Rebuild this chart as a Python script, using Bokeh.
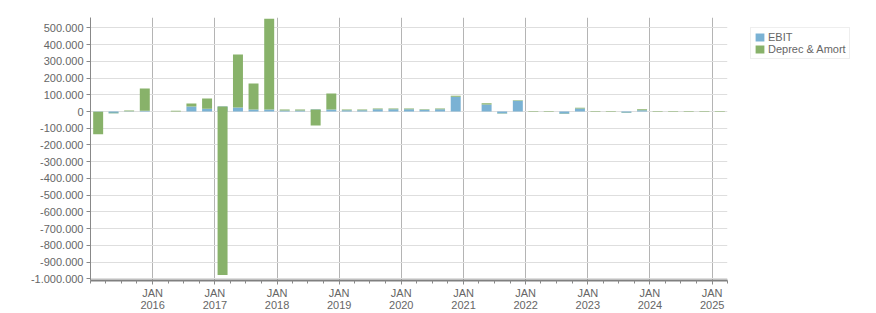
import datetime as dt
from bokeh.plotting import figure
from bokeh.models import FixedTicker, ColumnDataSource, Legend, LegendItem, Range1d
from bokeh.embed import file_html
from bokeh.resources import INLINE

# ---- data ----
quarters = [
    "2015-Q1", "2015-Q2", "2015-Q3", "2015-Q4",
    "2016-Q1", "2016-Q2", "2016-Q3", "2016-Q4",
    "2017-Q1", "2017-Q2", "2017-Q3", "2017-Q4",
    "2018-Q1", "2018-Q2", "2018-Q3", "2018-Q4",
    "2019-Q1", "2019-Q2", "2019-Q3", "2019-Q4",
    "2020-Q1", "2020-Q2", "2020-Q3", "2020-Q4",
    "2021-Q1", "2021-Q2", "2021-Q3", "2021-Q4",
    "2022-Q1", "2022-Q2", "2022-Q3", "2022-Q4",
    "2023-Q1", "2023-Q2", "2023-Q3", "2023-Q4",
    "2024-Q1", "2024-Q2", "2024-Q3", "2024-Q4",
    "2025-Q1",
]
ebit = [
    -2000, -10000, 1000, 5000,
    0, 0, 30000, 16000,
    30000, 24000, 12000, 12000,
    6000, 6000, 12000, 12000,
    8000, 8000, 14000, 14000,
    14000, 10000, 14000, 88000,
    0, 42000, -12000, 64000,
    0, 0, -14000, 18000,
    0, 0, -8000, 8000,
    0, 0, 0, 0,
    0,
]
deprec_amort = [
    -134000, 3000, 5000, 133000,
    0, 4000, 18000, 62000,
    -1007000, 317000, 156000, 543000,
    6000, 6000, -96000, 96000,
    4000, 4000, 4000, 4000,
    4000, 4000, 4000, 6000,
    0, 8000, 2000, 4000,
    3000, 3000, 2000, 4000,
    3000, 3000, 2000, 6000,
    3000, 3000, 3000, 3000,
    3000,
]
series_names = ["EBIT", "Deprec & Amort"]
year_labels = [2016, 2017, 2018, 2019, 2020, 2021, 2022, 2023, 2024, 2025]
y_tick_values = list(range(-1000000, 500001, 100000))

EPOCH = dt.datetime(1970, 1, 1)


def ms(d):
    return (d - EPOCH).total_seconds() * 1000.0


def quarter_bounds(q):
    y, n = int(q[:4]), int(q[-1])
    start = dt.datetime(y, 3 * (n - 1) + 1, 1)
    end = dt.datetime(y + 1, 1, 1) if n == 4 else dt.datetime(y, 3 * n + 1, 1)
    return start, end


def quarter_mid(q):
    s, e = quarter_bounds(q)
    return ms(s + (e - s) / 2)


def fmt_dots(v):
    s = f"{abs(v):,}".replace(",", ".")
    return ("-" if v < 0 else "") + s


x_mid = [quarter_mid(q) for q in quarters]
src = ColumnDataSource(dict(x=x_mid, ebit=ebit, depr=deprec_amort))

BLUE = "#7ab2d4"
GREEN = "#88b26a"
TEXT = "#666666"
FONT = "Liberation Sans"

x_start = ms(dt.datetime(2015, 1, 1))
x_end = ms(dt.datetime(2025, 4, 1))

p = figure(
    frame_width=637, frame_height=263,
    output_backend="svg", toolbar_location=None,
    x_range=Range1d(x_start, x_end),
    y_range=Range1d(-1010000, 562000),
    min_border_left=90, min_border_right=149,
    min_border_top=17, min_border_bottom=33,
)
p.outline_line_color = None
p.background_fill_color = "white"
p.border_fill_color = "white"

bar_w = 58.6 * 86400000.0
rs = p.vbar_stack(["ebit", "depr"], x="x", width=bar_w, color=[BLUE, GREEN],
                  line_color=None, source=src)

# axes
jan_ticks = [ms(dt.datetime(y, 1, 1)) for y in year_labels]
minor = []
for q in quarters:
    s, _ = quarter_bounds(q)
    minor.append(ms(s))
minor.append(x_end)
p.xaxis.ticker = FixedTicker(ticks=jan_ticks, minor_ticks=minor)
p.xaxis.major_label_overrides = {t: f"JAN\n{y}" for t, y in zip(jan_ticks, year_labels)}
p.xaxis.axis_line_color = "#808080"
p.xaxis.axis_line_width = 2
p.xaxis.major_tick_line_color = "#888888"
p.xaxis.minor_tick_line_color = "#888888"
p.xaxis.major_tick_in = 0
p.xaxis.major_tick_out = 4
p.xaxis.minor_tick_in = 0
p.xaxis.minor_tick_out = 3
p.xaxis.major_label_standoff = 2
p.xaxis.major_label_text_font = FONT
p.xaxis.major_label_text_font_size = "11px"
p.xaxis.major_label_text_color = TEXT
p.xaxis.major_label_text_line_height = 1.0

p.yaxis.ticker = FixedTicker(ticks=y_tick_values)
p.yaxis.major_label_overrides = {v: fmt_dots(v) for v in y_tick_values}
p.yaxis.axis_line_color = "#888888"
p.yaxis.major_tick_line_color = "#888888"
p.yaxis.major_tick_in = 0
p.yaxis.major_tick_out = 4
p.yaxis.minor_tick_line_color = None
p.yaxis.major_label_standoff = 3
p.yaxis.major_label_text_font = FONT
p.yaxis.major_label_text_font_size = "11px"
p.yaxis.major_label_text_color = TEXT

p.xgrid.grid_line_color = "#b4b4b4"
p.xgrid.grid_line_width = 1
p.ygrid.grid_line_color = "#dedede"
p.ygrid.grid_line_width = 1

legend = Legend(
    items=[LegendItem(label=series_names[0], renderers=[rs[0]]),
           LegendItem(label=series_names[1], renderers=[rs[1]])],
    location=(23, 221),
)
legend.label_text_font = FONT
legend.label_text_font_size = "11px"
legend.label_text_color = TEXT
legend.glyph_width = 11
legend.glyph_height = 10
legend.label_height = 10
legend.label_standoff = 3
legend.spacing = 0
legend.padding = 3
legend.margin = 0
legend.border_line_color = "#dddddd"
legend.border_line_width = 1
legend.background_fill_color = "white"
legend.background_fill_alpha = 1.0
p.add_layout(legend, "right")

open("out.html", "w").write(file_html(p, INLINE))
